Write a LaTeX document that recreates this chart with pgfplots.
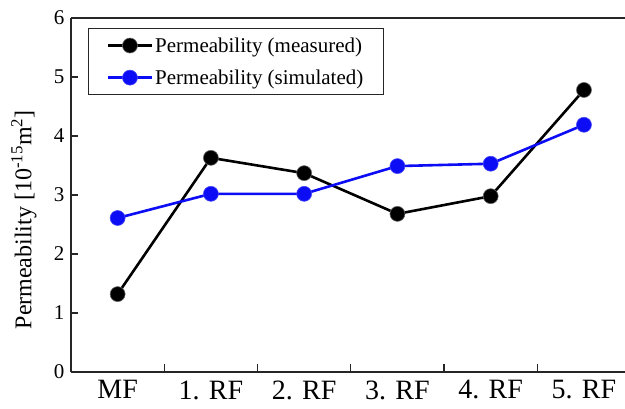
\documentclass[border=0pt]{standalone}
\usepackage{pgfplots}
\pgfplotsset{compat=1.18}
\usepackage{fontspec}
\setmainfont{Liberation Serif}
\definecolor{simblue}{RGB}{12,12,245}

\begin{document}
\begin{tikzpicture}[x=1pt,y=1pt]
\begin{axis}[
  at={(0pt,0pt)}, anchor=south west,
  scale only axis,
  width=554pt, height=354pt,
  xmin=-0.5, xmax=5.44,
  ymin=0, ymax=6,
  axis x line=box,
  axis y line=left,
  y axis line style={-},
  axis line style={line width=1.8pt, black!85},
  xtick={0,1,2,3,4,5},
  xticklabels={MF,1. RF,2. RF,3. RF,4. RF,5. RF},
  major x tick style={draw=none},
  minor xtick={0.5,1.5,2.5,3.5,4.5},
  minor x tick style={line width=1.4pt, black!85},
  minor tick length=8pt,
  xtick pos=bottom,
  ytick={0,1,2,3,4,5,6},
  ytick pos=left,
  major y tick style={line width=1.4pt, black!85},
  major tick length=7pt,
  tick align=inside,
  /pgf/number format/assume math mode=true,
  xticklabel style={font=\fontsize{28}{30}\selectfont, yshift=-5pt},
  yticklabel style={font=\fontsize{21}{23}\selectfont, xshift=-3pt},
  ylabel={Permeability [10\textsuperscript{-15}m\textsuperscript{2}]},
  ylabel style={at={(axis description cs:-0.085,0.43)}, anchor=center,
    font=\fontsize{24}{26}\selectfont},
  legend style={at={(rel axis cs:0.031,0.972)}, anchor=north west,
    draw=black!85, line width=1.2pt,
    font=\fontsize{21}{23}\selectfont,
    inner xsep=18pt, inner ysep=7pt, row sep=12pt,
    cells={anchor=west}},
  legend image code/.code={
    \draw[#1, line width=2.4pt] (0pt,0pt) -- (44pt,0pt);
    \draw[#1, mark repeat=1] plot coordinates {(22pt,0pt)};
  },
  clip=false,
]
\addplot[black, line width=2.6pt, mark=*, mark size=7.5pt,
  mark options={fill=black, draw=black!60, line width=0.6pt}]
  coordinates {(0,1.32) (1,3.63) (2,3.37) (3,2.68) (4,2.98) (5,4.78)};
\addlegendentry{Permeability (measured)\hspace{10pt}}
\addplot[simblue, line width=2.6pt, mark=*, mark size=7.5pt,
  mark options={fill=simblue, draw=simblue!75, line width=0.6pt}]
  coordinates {(0,2.61) (1,3.02) (2,3.02) (3,3.49) (4,3.53) (5,4.19)};
\addlegendentry{Permeability (simulated)\hspace{10pt}}
\end{axis}
\pgfresetboundingbox
\useasboundingbox (-71pt,-37pt) rectangle (554pt,372pt);
\end{tikzpicture}
\end{document}
